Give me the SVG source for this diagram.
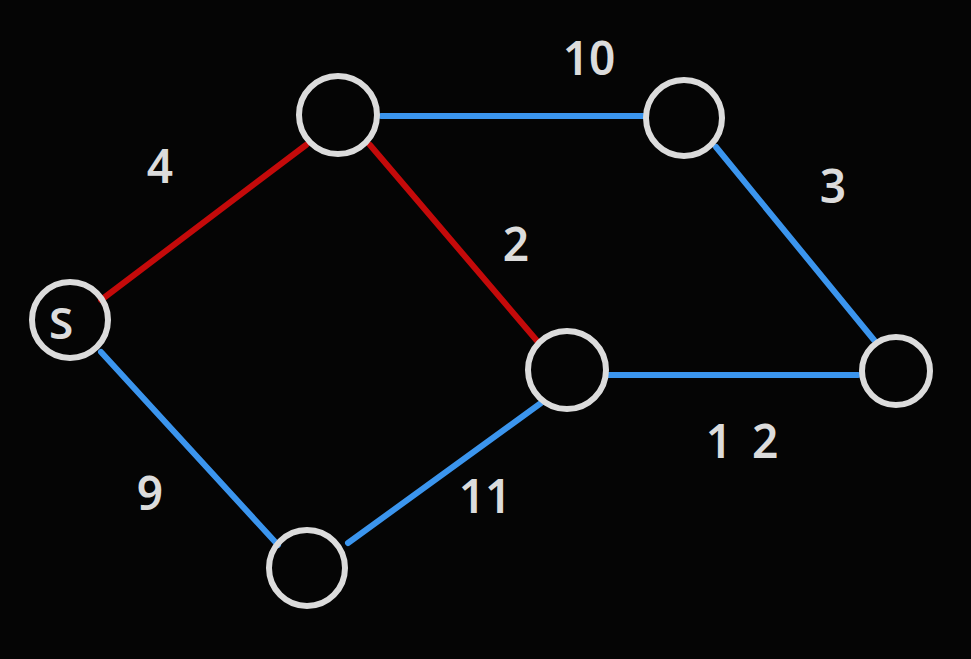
<svg xmlns="http://www.w3.org/2000/svg" width="971" height="659" viewBox="0 0 971 659">
<style>
.node{fill:none;stroke:#dcdcdc;stroke-width:6}
.red{stroke:#c40a0a;stroke-width:6;stroke-linecap:round;fill:none}
.blue{stroke:#3b95ee;stroke-width:6;stroke-linecap:round;fill:none}
.lbl{font-family:"Noto Sans",sans-serif;font-size:46px;font-weight:600;fill:#dcdcdc;text-anchor:middle;dominant-baseline:central}
</style>
<rect width="971" height="659" fill="#050505"/>
<g id="edges">
<line class="red" x1="101" y1="300" x2="306" y2="145"/>
<line class="red" x1="370" y1="145" x2="538" y2="342"/>
<line class="blue" x1="381" y1="116" x2="643" y2="116"/>
<line class="blue" x1="716" y1="147" x2="874" y2="340"/>
<line class="blue" x1="608" y1="375" x2="858" y2="375"/>
<line class="blue" x1="101" y1="352" x2="278" y2="545"/>
<line class="blue" x1="348" y1="543" x2="541" y2="403"/>
</g>
<g id="nodeS"><circle class="node" cx="70" cy="320" r="38"/><text class="lbl" x="61" y="322" style="font-size:44px">S</text></g>
<g id="nodeA"><circle class="node" cx="338" cy="115" r="39"/></g>
<g id="nodeB"><circle class="node" cx="684" cy="118" r="38"/></g>
<g id="nodeC"><circle class="node" cx="567" cy="370" r="39"/></g>
<g id="nodeD"><circle class="node" cx="896" cy="371" r="34"/></g>
<g id="nodeE"><circle class="node" cx="307" cy="568" r="38"/></g>
<g id="labels">
<text class="lbl" x="160" y="165">4</text>
<text class="lbl" x="589" y="57">10</text>
<text class="lbl" x="833" y="185">3</text>
<text class="lbl" x="516" y="243">2</text>
<text class="lbl" x="752" y="440" letter-spacing="20">12</text>
<text class="lbl" x="150" y="492">9</text>
<text class="lbl" x="485" y="495">11</text>
</g>
</svg>
